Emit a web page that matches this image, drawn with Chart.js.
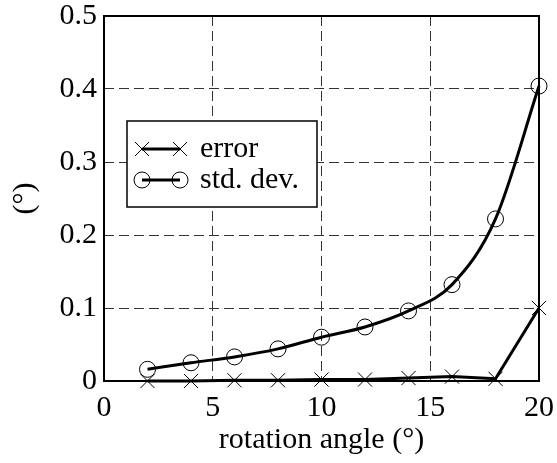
<!DOCTYPE html>
<html><head><meta charset="utf-8">
<script src="https://cdn.jsdelivr.net/npm/chart.js@4/dist/chart.umd.min.js"></script>
<style>html,body{margin:0;padding:0;background:#fff}#wrap{width:557px;height:463px}</style>
</head><body><div id="wrap"><canvas id="c" width="557" height="463"></canvas></div>
<script>
const angles = [2, 4, 6, 8, 10, 12, 14, 16, 18, 20];
const errorVals = [0.0, 0.0, 0.001, 0.001, 0.002, 0.002, 0.004, 0.006, 0.003, 0.100];
const stdVals = [0.016, 0.025, 0.033, 0.044, 0.060, 0.074, 0.096, 0.132, 0.222, 0.404];
const xTicks = [0, 5, 10, 15, 20];
const yTicks = [0, 0.1, 0.2, 0.3, 0.4, 0.5];
const seriesNames = ['error', 'std. dev.'];
const xTitle = 'rotation angle (°)';
const yTitle = '(°)';

const FONT = '"Liberation Serif", "Times New Roman", serif';

const framePlugin = {
  id: 'frame',
  afterDatasetsDraw(chart) {
    const {ctx, chartArea: a} = chart;
    ctx.save();
    ctx.strokeStyle = '#000';
    ctx.lineWidth = 2;
    ctx.strokeRect(a.left, a.top, a.right - a.left, a.bottom - a.top);
    // legend box
    const bx = 127, by = 121, bw = 190, bh = 86;
    ctx.fillStyle = '#fff';
    ctx.fillRect(bx, by, bw, bh);
    ctx.lineWidth = 1.5;
    ctx.strokeRect(bx, by, bw, bh);
    const rows = [149, 180];
    const x1 = 142, x2 = 180;
    rows.forEach((y, i) => {
      ctx.strokeStyle = '#000';
      ctx.lineWidth = 3;
      ctx.beginPath(); ctx.moveTo(x1, y); ctx.lineTo(x2, y); ctx.stroke();
      ctx.lineWidth = 1;
      [x1, x2].forEach(px => {
        if (i === 0) {
          const r = 7;
          ctx.beginPath();
          ctx.moveTo(px - r, y - r); ctx.lineTo(px + r, y + r);
          ctx.moveTo(px - r, y + r); ctx.lineTo(px + r, y - r);
          ctx.stroke();
        } else {
          ctx.beginPath(); ctx.arc(px, y, 8, 0, Math.PI * 2); ctx.stroke();
        }
      });
      ctx.fillStyle = '#000';
      ctx.font = '30px ' + FONT;
      ctx.textBaseline = 'middle';
      ctx.textAlign = 'left';
      ctx.fillText(seriesNames[i], 200, y);
    });
    ctx.restore();
  }
};

new Chart(document.getElementById('c'), {
  type: 'line',
  data: {
    labels: angles,
    datasets: [
      {
        label: seriesNames[0],
        data: angles.map((x, i) => ({x, y: errorVals[i]})),
        borderColor: '#000', borderWidth: 3,
        pointStyle: 'crossRot', pointRadius: 10, pointBorderWidth: 1,
        pointBorderColor: '#000', pointBackgroundColor: 'rgba(0,0,0,0)',
        tension: 0, clip: false
      },
      {
        label: seriesNames[1],
        data: angles.map((x, i) => ({x, y: stdVals[i]})),
        borderColor: '#000', borderWidth: 3,
        pointStyle: 'circle', pointRadius: 8, pointBorderWidth: 1,
        pointBorderColor: '#000', pointBackgroundColor: 'rgba(0,0,0,0)',
        cubicInterpolationMode: 'monotone', clip: false
      }
    ]
  },
  options: {
    responsive: false, animation: false,
    layout: {padding: {left: 0, top: 16, right: 18, bottom: 0}},
    plugins: {legend: {display: false}, tooltip: {enabled: false}},
    scales: {
      x: {
        type: 'linear', min: 0, max: 20,
        afterBuildTicks: s => { s.ticks = xTicks.map(v => ({value: v})); },
        afterFit: s => { s.height = 82; s.paddingLeft = 0; s.paddingRight = 0; },
        grid: {color: '#333', lineWidth: 1, drawTicks: false},
        border: {display: false, dash: [10, 5]},
        ticks: {color: '#000', font: {family: FONT, size: 30}, padding: 9, maxRotation: 0},
        title: {display: true, text: xTitle, color: '#000', font: {family: FONT, size: 30}, padding: {top: 0, bottom: 5}}
      },
      y: {
        min: 0, max: 0.5,
        afterBuildTicks: s => { s.ticks = yTicks.map(v => ({value: v})); },
        afterFit: s => { s.width = 104; s.paddingTop = 0; s.paddingBottom = 0; },
        grid: {color: '#333', lineWidth: 1, drawTicks: false},
        border: {display: false, dash: [10, 5]},
        ticks: {color: '#000', font: {family: FONT, size: 30}, padding: 7,
          callback: v => String(v)},
        title: {display: true, text: yTitle, color: '#000', font: {family: FONT, size: 30}, padding: {top: 7, bottom: 0}}
      }
    }
  },
  plugins: [framePlugin]
});
</script>
</body></html>
